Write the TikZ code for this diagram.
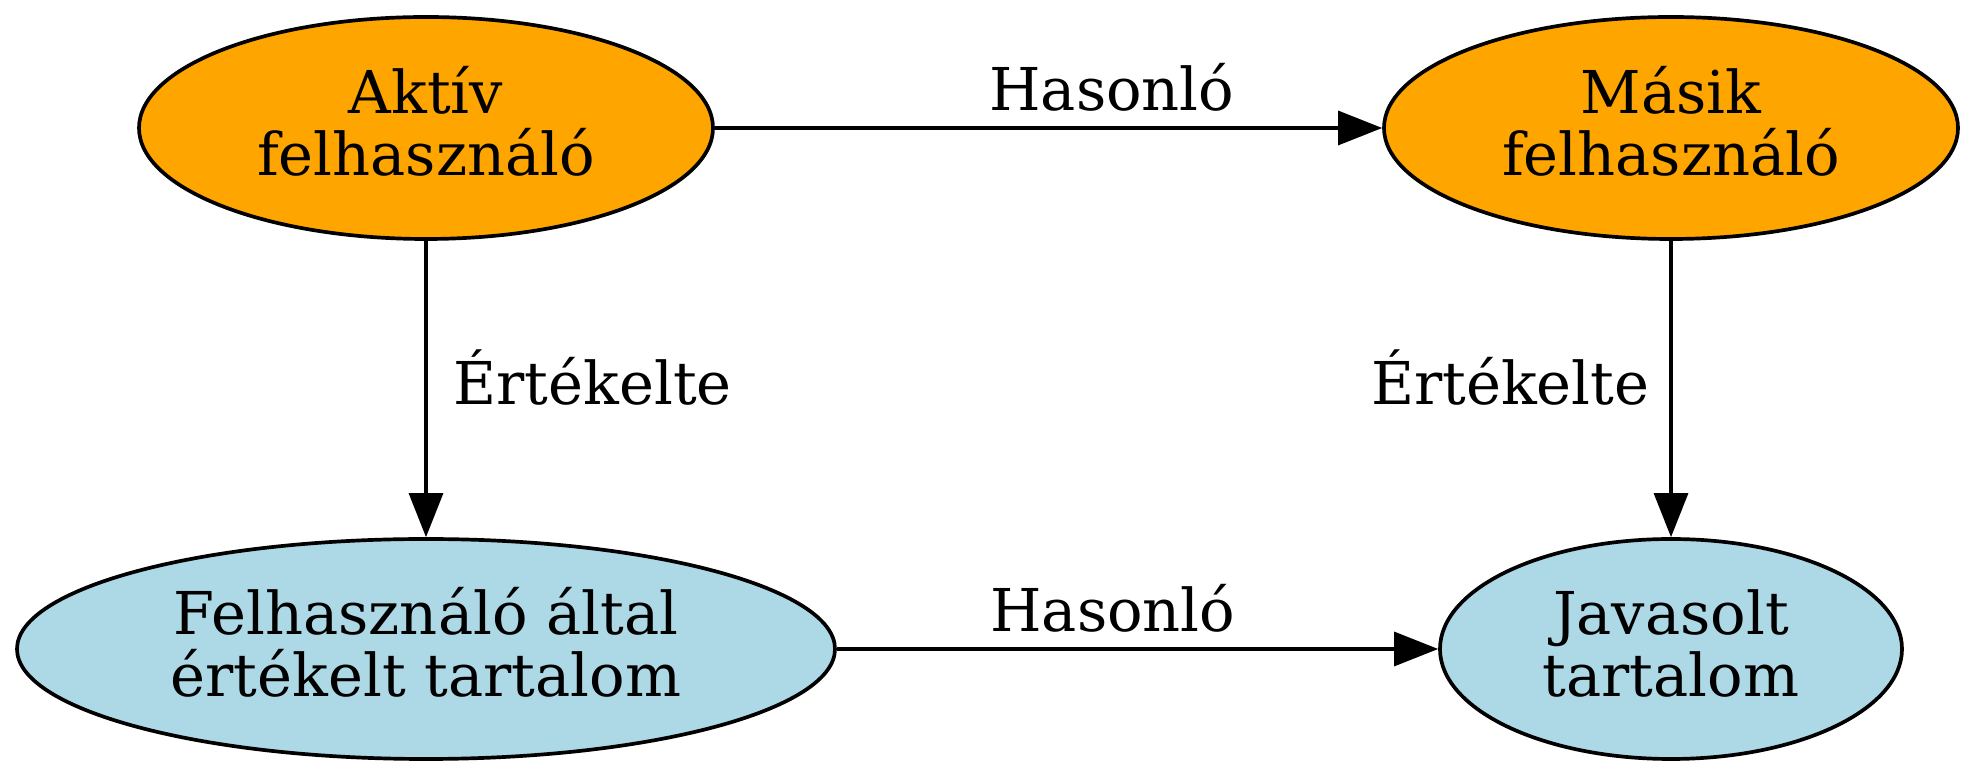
\documentclass[tikz,border=0pt]{standalone}
\usepackage{fontspec}
\setmainfont{DejaVu Serif}
\usepackage{xcolor}
\usetikzlibrary{shapes.geometric,arrows.meta}
\definecolor{UserOrange}{HTML}{FFA500}
\definecolor{ItemBlue}{HTML}{ADD8E6}

\tikzset{
  usernode/.style={ellipse, draw, line width=2.1pt, fill=UserOrange, align=center, inner sep=0pt,
    text height=1.9cm, text depth=0cm,
    minimum width=11.48cm, minimum height=4.44cm, font=\fontsize{33.6}{35.5}\selectfont},
  itemnode/.style={ellipse, draw, line width=2.1pt, fill=ItemBlue, align=center, inner sep=0pt,
    text height=1.9cm, text depth=0cm,
    minimum height=4.40cm, font=\fontsize{33.6}{35.5}\selectfont},
  link/.style={line width=1.8pt, -{Triangle[length=0.88cm,width=0.68cm]}},
  linklabel/.style={inner sep=0pt, font=\fontsize{33.6}{35.5}\selectfont}
}

\begin{document}
\begin{tikzpicture}
  \useasboundingbox (0,0) rectangle (39.48,15.56);
  \node[usernode] (aktiv) at (8.52,13.00) {Aktív\\felhasználó};
  \node[usernode] (masik) at (33.42,13.00) {Másik\\felhasználó};
  \node[itemnode, minimum width=16.36cm] (ertekelt) at (8.52,2.58) {Felhasználó által\\értékelt tartalom};
  \node[itemnode, minimum width=9.24cm] (javasolt) at (33.42,2.58) {Javasolt\\tartalom};

  \draw[link] (aktiv) -- node[linklabel, pos=0.595, above=0.3cm] {Hasonló} (masik);
  \draw[link] (ertekelt) -- node[linklabel, pos=0.459, above=0.3cm] {Hasonló} (javasolt);
  \draw[link] (aktiv) -- node[linklabel, pos=0.553, anchor=base west, xshift=0.52cm] {Értékelte} (ertekelt);
  \draw[link] (masik) -- node[linklabel, pos=0.553, anchor=base east, xshift=-0.4cm] {Értékelte} (javasolt);
\end{tikzpicture}
\end{document}
